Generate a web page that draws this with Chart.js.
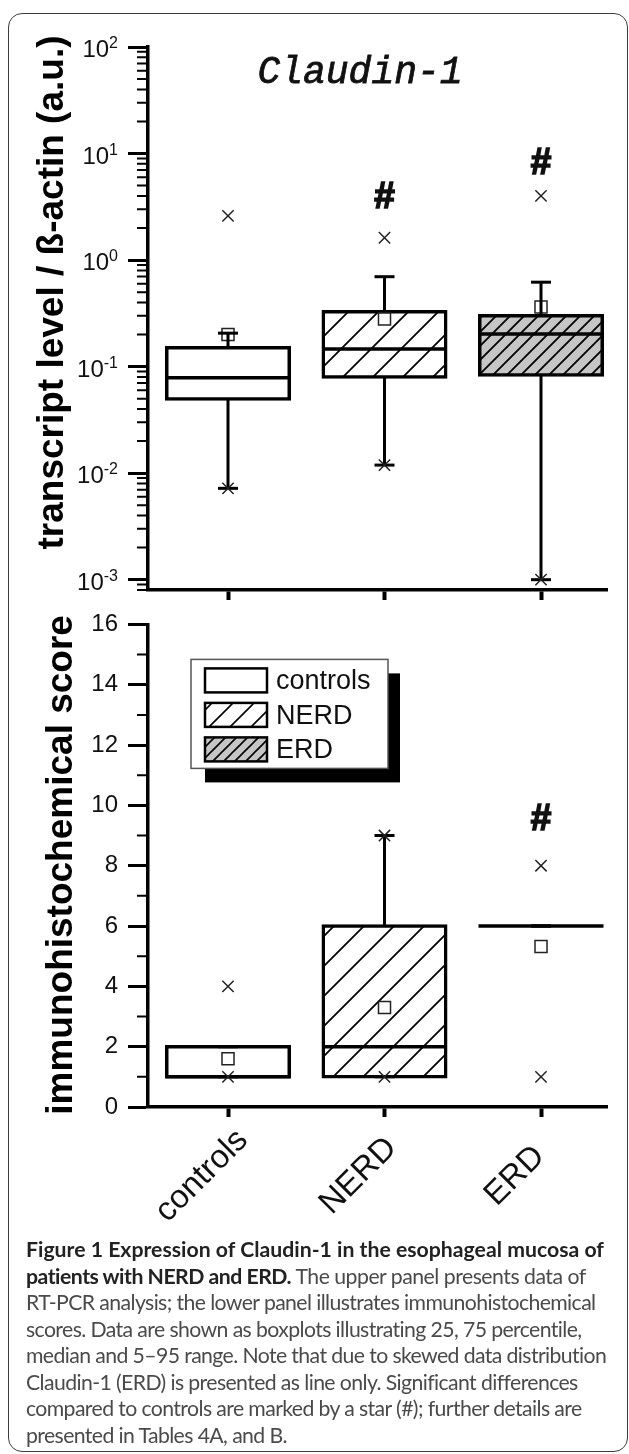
<!DOCTYPE html>
<html>
<head>
<meta charset="utf-8">
<script src="https://cdn.jsdelivr.net/npm/chart.js@4.4.0/dist/chart.umd.min.js"></script>
<style>
  html, body { margin: 0; padding: 0; background: #fff; }
  body { width: 629px; height: 1454px; position: relative; overflow: hidden; }
  #frame { position: absolute; left: 8px; top: 13px; width: 620px; height: 1439px; box-sizing: border-box;
           border: 1.5px solid #3c3c3c; border-radius: 14px; }
  canvas { position: absolute; left: 0; }
  #rt { top: 0; }
  #ihc { top: 600px; }
  #caption { position: absolute; left: 26px; top: 1236px; font-family: Lato, "Noto Sans", sans-serif;
             font-size: 20px; line-height: 26.5px; color: #4a4a4a; white-space: nowrap; }
  #caption b { color: #222; font-weight: 700; }
</style>
</head>
<body>
<div id="frame"></div>
<canvas id="rt" width="629" height="612"></canvas>
<canvas id="ihc" width="629" height="640"></canvas>
<div id="caption">
  <div class="ln"><span><b>Figure 1 Expression of Claudin-1 in the esophageal mucosa of</b></span></div>
  <div class="ln"><span><b>patients with NERD and ERD.</b> The upper panel presents data of</span></div>
  <div class="ln"><span>RT-PCR analysis; the lower panel illustrates immunohistochemical</span></div>
  <div class="ln"><span>scores. Data are shown as boxplots illustrating 25, 75 percentile,</span></div>
  <div class="ln"><span>median and 5–95 range. Note that due to skewed data distribution</span></div>
  <div class="ln"><span>Claudin-1 (ERD) is presented as line only. Significant differences</span></div>
  <div class="ln"><span>compared to controls are marked by a star (#); further details are</span></div>
  <div class="ln"><span>presented in Tables 4A, and B.</span></div>
</div>
<script>
const categories = ["controls", "NERD", "ERD"];
const groupX = [1, 2, 3];

// upper panel: RT-PCR, transcript level / ß-actin (log scale)
const rtQ1 = [0.0497, 0.0798, 0.0834];
const rtMedian = [0.0787, 0.146, 0.202];
const rtQ3 = [0.150, 0.327, 0.300];
const rtP5 = [0.0072, 0.0119, 0.001];
const rtP95 = [0.206, 0.698, 0.62];
const rtMean = [0.200, 0.280, 0.362];
const rtMin = [0.0072, 0.0119, 0.001];
const rtMax = [2.6, 1.62, 4.0];
const rtSig = [null, 4.08, 8.5];
const rtTicks = [0.001, 0.01, 0.1, 1, 10, 100];
const rtTickLabels = [["10", "-3"], ["10", "-2"], ["10", "-1"], ["10", "0"], ["10", "1"], ["10", "2"]];

// lower panel: immunohistochemical score
const ihcQ1 = [1, 1, 6];
const ihcMedian = [1, 2, 6];
const ihcQ3 = [2, 6, 6];
const ihcP5 = [1, 1, 6];
const ihcP95 = [2, 9, 6];
const ihcMean = [1.6, 3.3, 5.32];
const ihcMin = [1, 1, 1];
const ihcMax = [4, 9, 8];
const ihcSig = [null, null, 9.6];
const ihcTicks = [0, 2, 4, 6, 8, 10, 12, 14, 16];
const ihcTickLabels = ["0", "2", "4", "6", "8", "10", "12", "14", "16"];

const SANS = '"Liberation Sans", Arial, sans-serif';

// minor ticks (log decades 2..9, odd scores)
const rtMinor = [];
for (let e = -4; e <= 1; e++) {
  for (let k = 2; k <= 9; k++) {
    const v = k * Math.pow(10, e);
    if (v >= 0.0008 - 1e-12 && v <= 100) rtMinor.push(v);
  }
}
const ihcMinor = [1, 3, 5, 7, 9, 11, 13, 15];

function hatch(bg, step, lw) {
  const tile = document.createElement("canvas");
  tile.width = tile.height = step;
  const g = tile.getContext("2d");
  g.fillStyle = bg;
  g.fillRect(0, 0, step, step);
  g.strokeStyle = "#000";
  g.lineWidth = lw;
  g.beginPath();
  g.moveTo(-step, 2 * step); g.lineTo(2 * step, -step);
  g.moveTo(-step, step); g.lineTo(step, -step);
  g.moveTo(0, 2 * step); g.lineTo(2 * step, 0);
  g.stroke();
  return g.createPattern(tile, "repeat");
}

const boxFills = ["#fff", hatch("#fff", 30, 1.8), hatch("#c6c6c6", 14, 1.8)];
const legendFills = ["#fff", hatch("#fff", 21, 1.6), hatch("#c6c6c6", 11, 1.6)];

function boxDatasets(s) {
  const pts = vals => groupX.map((x, i) => ({ x, y: vals[i] }));
  const whisk = [];
  groupX.forEach((x, i) => {
    whisk.push({ x, y: s.q1[i] }, { x, y: s.p5[i] }, { x, y: null },
               { x, y: s.q3[i] }, { x, y: s.p95[i] }, { x, y: null });
  });
  return [
    // border centred on the quartile values
    { type: "bar", data: groupX.map((x, i) => ({ x, y: [s.q1[i], s.q3[i]] })),
      backgroundColor: boxFills, borderColor: "#000", borderWidth: 3.5, borderSkipped: false,
      inflateAmount: 1.75, barThickness: 122.5, order: 6 },
    { type: "scatter", data: pts(s.mean), pointStyle: "rect", pointRadius: 8.5,
      backgroundColor: "#fff", borderColor: "#222", borderWidth: 1.5, order: 5 },
    { type: "line", data: whisk, borderColor: "#000", borderWidth: 3, pointRadius: 0, fill: false, order: 4 },
    { type: "scatter", data: pts(s.median), pointStyle: "line", pointRadius: 62.5,
      borderColor: "#000", borderWidth: 3.5, order: 3 },
    { type: "scatter", data: pts(s.p5).concat(pts(s.p95)), pointStyle: "line", pointRadius: 10,
      borderColor: "#000", borderWidth: 3, order: 2 },
    { type: "scatter", data: pts(s.min).concat(pts(s.max)), pointStyle: "crossRot", pointRadius: 8,
      borderColor: "#222", borderWidth: 1.5, order: 1 },
  ];
}

function drawMinorTicks(ctx, a, y, vals) {
  ctx.strokeStyle = "#000";
  ctx.lineWidth = 2;
  ctx.beginPath();
  vals.forEach(v => {
    const py = y.getPixelForValue(v);
    ctx.moveTo(a.left - 11, py);
    ctx.lineTo(a.left, py);
  });
  ctx.stroke();
}

function drawYTitle(ctx, text, bx, cy) {
  ctx.save();
  ctx.translate(bx, cy);
  ctx.rotate(-Math.PI / 2);
  ctx.font = "bold 37px " + SANS;
  ctx.fillStyle = "#000";
  ctx.textAlign = "center";
  ctx.textBaseline = "alphabetic";
  ctx.fillText(text, 0, 0);
  ctx.restore();
}

function drawSig(ctx, x, y, vals) {
  ctx.font = "bold 37px " + SANS;
  ctx.fillStyle = "#111";
  ctx.strokeStyle = "#111";
  ctx.lineWidth = 1.6;
  ctx.textAlign = "center";
  ctx.textBaseline = "alphabetic";
  vals.forEach((v, i) => {
    if (v == null) return;
    const px = x.getPixelForValue(groupX[i]), py = y.getPixelForValue(v) + 13;
    ctx.fillText("#", px, py);
    ctx.strokeText("#", px, py);
  });
}

const rtDecor = {
  id: "rtDecor",
  afterDraw(chart) {
    const { ctx, chartArea: a, scales: { x, y } } = chart;
    ctx.save();
    drawMinorTicks(ctx, a, y, rtMinor);
    // "10" with superscript exponent
    ctx.fillStyle = "#111";
    ctx.textAlign = "right";
    ctx.textBaseline = "alphabetic";
    rtTicks.forEach((v, i) => {
      const py = y.getPixelForValue(v);
      const [base, exp] = rtTickLabels[i];
      const right = a.left - 30;
      ctx.font = "16px " + SANS;
      const ew = ctx.measureText(exp).width;
      ctx.fillText(exp, right, py + 1);
      ctx.font = "24px " + SANS;
      ctx.fillText(base, right - ew, py + 10);
    });
    drawYTitle(ctx, "transcript level / ß-actin (a.u.)", 63, a.top + 245.5);
    ctx.font = 'italic 38px "Liberation Mono", "Courier New", monospace';
    ctx.fillStyle = "#111";
    ctx.strokeStyle = "#111";
    ctx.lineWidth = 0.8;
    ctx.textAlign = "center";
    ctx.fillText("Claudin-1", a.left + 212, a.top + 36);
    ctx.strokeText("Claudin-1", a.left + 212, a.top + 36);
    drawSig(ctx, x, y, rtSig);
    ctx.restore();
  }
};

const ihcDecor = {
  id: "ihcDecor",
  afterDraw(chart) {
    const { ctx, chartArea: a, scales: { x, y } } = chart;
    ctx.save();
    drawMinorTicks(ctx, a, y, ihcMinor);
    drawYTitle(ctx, "immunohistochemical score", 72, a.top + 240.5);
    drawSig(ctx, x, y, ihcSig);

    // rotated group labels
    ctx.font = "33px " + SANS;
    ctx.fillStyle = "#111";
    ctx.textAlign = "center";
    ctx.textBaseline = "middle";
    categories.forEach((c, i) => {
      ctx.save();
      ctx.translate(x.getPixelForValue(groupX[i]) - 26, a.bottom + 69);
      ctx.rotate(-Math.PI / 4);
      ctx.fillText(c, 0, 0);
      ctx.restore();
    });

    // legend with drop shadow
    const L = a.left + 43, T = a.top + 35, W = 197, H = 109;
    ctx.fillStyle = "#000";
    ctx.fillRect(L + 14, T + 14, W - 2, H);
    ctx.fillStyle = "#fff";
    ctx.fillRect(L, T, W, H);
    ctx.strokeStyle = "#555";
    ctx.lineWidth = 1.5;
    ctx.strokeRect(L, T, W, H);
    categories.forEach((c, i) => {
      const sy = T + 9 + i * 34.5;
      ctx.fillStyle = legendFills[i];
      ctx.fillRect(L + 14, sy, 62, 24);
      ctx.strokeStyle = "#000";
      ctx.lineWidth = 2.5;
      ctx.strokeRect(L + 14, sy, 62, 24);
      ctx.fillStyle = "#111";
      ctx.font = "27px " + SANS;
      ctx.textAlign = "left";
      ctx.textBaseline = "alphabetic";
      ctx.fillText(c, L + 85, sy + 21);
    });
    ctx.restore();
  }
};

function xScale(height) {
  return {
    type: "linear", min: 0.4888, max: 3.4217, offset: false,
    afterBuildTicks: s => { s.ticks = groupX.map(v => ({ value: v })); },
    afterFit: s => { s.height = height; },
    ticks: { display: false },
    grid: { offset: false, drawOnChartArea: false, tickLength: 10, tickWidth: 4, tickColor: "#000" },
    border: { display: true, width: 3.5, color: "#000" },
  };
}

const yGrid = { drawOnChartArea: false, tickLength: 20, tickWidth: 3, tickColor: "#000" };

new Chart(document.getElementById("rt"), {
  type: "bar",
  data: { datasets: boxDatasets({ q1: rtQ1, median: rtMedian, q3: rtQ3, p5: rtP5, p95: rtP95,
                                   mean: rtMean, min: rtMin, max: rtMax }) },
  options: {
    responsive: false, animation: false, events: [],
    layout: { autoPadding: false, padding: { top: 47, right: 22, bottom: 5, left: 0 } },
    plugins: { legend: { display: false }, tooltip: { enabled: false } },
    scales: {
      x: xScale(17),
      y: {
        type: "logarithmic", min: 0.0008, max: 100,
        afterBuildTicks: s => { s.ticks = rtTicks.map(v => ({ value: v, major: true })); },
        afterFit: s => { s.width = 148; },
        ticks: { display: false },
        grid: yGrid,
        border: { display: true, width: 3.5, color: "#000" },
      },
    },
  },
  plugins: [rtDecor],
});

new Chart(document.getElementById("ihc"), {
  type: "bar",
  data: { datasets: boxDatasets({ q1: ihcQ1, median: ihcMedian, q3: ihcQ3, p5: ihcP5, p95: ihcP95,
                                   mean: ihcMean, min: ihcMin, max: ihcMax }) },
  options: {
    responsive: false, animation: false, events: [],
    layout: { autoPadding: false, padding: { top: 23, right: 22, bottom: 0, left: 0 } },
    plugins: { legend: { display: false }, tooltip: { enabled: false } },
    scales: {
      x: xScale(133),
      y: {
        type: "linear", min: 0, max: 16,
        afterBuildTicks: s => { s.ticks = ihcTicks.map(v => ({ value: v })); },
        afterFit: s => { s.width = 148; },
        ticks: { padding: 10, color: "#111", font: { family: "Liberation Sans", size: 24 },
                 callback: (v, i) => ihcTickLabels[i] },
        grid: yGrid,
        border: { display: true, width: 3.5, color: "#000" },
      },
    },
  },
  plugins: [ihcDecor],
});

// caption: fit line lengths to the printed figure
const captionLineWidths = [578, 560, 555, 545, 576, 542, 554, 257];
function fitCaption() {
  const cap = document.getElementById("caption");
  const spans = [...cap.querySelectorAll(".ln > span")];
  cap.style.fontSize = "20px";
  spans.forEach(s => { s.style.letterSpacing = "0px"; });
  const fs = 20 * captionLineWidths[0] / spans[0].getBoundingClientRect().width;
  cap.style.fontSize = fs.toFixed(2) + "px";
  spans.forEach((s, i) => {
    const w = s.getBoundingClientRect().width;
    const ls = Math.max(-0.6, Math.min(0.6, (captionLineWidths[i] - w) / s.textContent.length));
    s.style.letterSpacing = ls.toFixed(3) + "px";
  });
}
fitCaption();
if (document.fonts) document.fonts.ready.then(fitCaption);
</script>
</body>
</html>
